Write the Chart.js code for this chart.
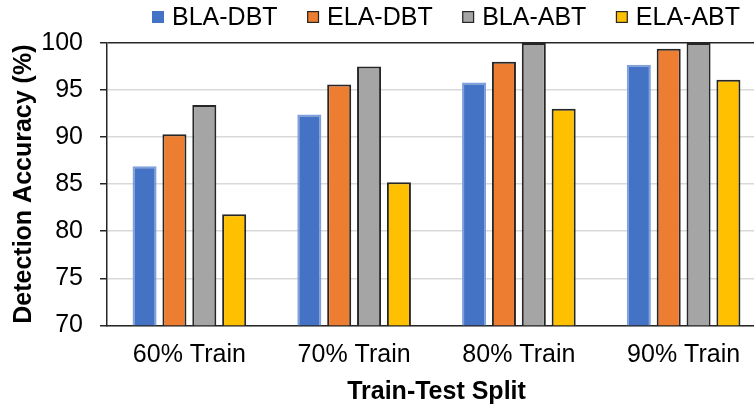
<!DOCTYPE html>
<html>
<head>
<meta charset="utf-8">
<script src="https://cdn.jsdelivr.net/npm/chart.js@4/dist/chart.umd.min.js"></script>
<style>
  html, body { margin: 0; padding: 0; background: #fff; overflow: hidden; }
  #wrap { position: relative; width: 766px; height: 408px; }
</style>
</head>
<body>
<div id="wrap"><canvas id="c"></canvas></div>
<script>
// Train-test splits on the x axis
const splits = ['60% Train', '70% Train', '80% Train', '90% Train'];

// Detection accuracy (%) per method
const blaDbt = [86.9, 92.4, 95.8, 97.7];
const elaDbt = [90.3, 95.6, 98.0, 99.4];
const blaAbt = [93.4, 97.5, 100, 100];
const elaAbt = [81.8, 85.2, 93.0, 96.1];

const seriesNames = ['BLA-DBT', 'ELA-DBT', 'BLA-ABT', 'ELA-ABT'];
const yTicks = [70, 75, 80, 85, 90, 95, 100];

const FONT = "'Liberation Sans', Arial, sans-serif";
const DARK = '#262626';
const fills = ['#4472C4', '#ED7D31', '#A5A5A5', '#FFC000'];
const edges = ['#7FA0DC', DARK, DARK, DARK];

// Legend row drawn across the top of the canvas
const topLegend = {
  id: 'topLegend',
  afterDraw(chart) {
    const ctx = chart.ctx;
    ctx.save();
    ctx.font = '25px ' + FONT;
    ctx.textBaseline = 'alphabetic';
    let x = 152;
    chart.data.datasets.forEach((ds, i) => {
      ctx.fillStyle = ds.backgroundColor;
      ctx.fillRect(x, 11, 12, 12);
      if (i > 0) {
        ctx.strokeStyle = DARK;
        ctx.lineWidth = 1.2;
        ctx.strokeRect(x + 0.6, 11.6, 10.8, 10.8);
      }
      ctx.fillStyle = '#000';
      ctx.fillText(ds.label, x + 20, 24.5);
      x += 20 + ctx.measureText(ds.label).width + 29.5;
    });
    ctx.restore();
  }
};

const values = [blaDbt, elaDbt, blaAbt, elaAbt];

new Chart(document.getElementById('c'), {
  type: 'bar',
  data: {
    labels: splits,
    datasets: values.map((v, i) => ({
      label: seriesNames[i],
      data: v,
      backgroundColor: fills[i],
      borderColor: edges[i],
      borderWidth: 2,
      categoryPercentage: 0.725,
      barPercentage: 0.805
    }))
  },
  options: {
    responsive: true,
    maintainAspectRatio: false,
    animation: false,
    layout: { padding: { top: 43, left: 0, right: 0, bottom: 0 } },
    plugins: {
      legend: { display: false },
      tooltip: { enabled: false }
    },
    scales: {
      x: {
        grid: { display: false, drawTicks: false },
        border: { display: true, color: DARK, width: 1.5 },
        ticks: { color: '#000', font: { family: FONT, size: 25 }, padding: 15, maxRotation: 0 },
        title: {
          display: true,
          text: 'Train-Test Split',
          color: '#000',
          font: { family: FONT, size: 25, weight: 'bold' },
          padding: { top: 0, bottom: 1 }
        },
        afterFit(scale) { scale.height = 82.7; }
      },
      y: {
        min: 70,
        max: 100,
        afterBuildTicks(scale) { scale.ticks = yTicks.map(v => ({ value: v })); },
        grid: {
          color: c => (c.tick && c.tick.value === 100 ? DARK : '#D9D9D9'),
          lineWidth: 1.5,
          tickColor: DARK,
          tickLength: 7,
          drawTicks: true
        },
        border: { display: true, color: DARK, width: 1.5 },
        ticks: { color: '#000', font: { family: FONT, size: 25 }, padding: 17 },
        title: {
          display: true,
          text: 'Detection Accuracy (%)',
          color: '#000',
          font: { family: FONT, size: 25, weight: 'bold' },
          padding: { top: 9, bottom: 0 }
        },
        afterFit(scale) { scale.width = 107; }
      }
    }
  },
  plugins: [topLegend]
});
</script>
</body>
</html>
